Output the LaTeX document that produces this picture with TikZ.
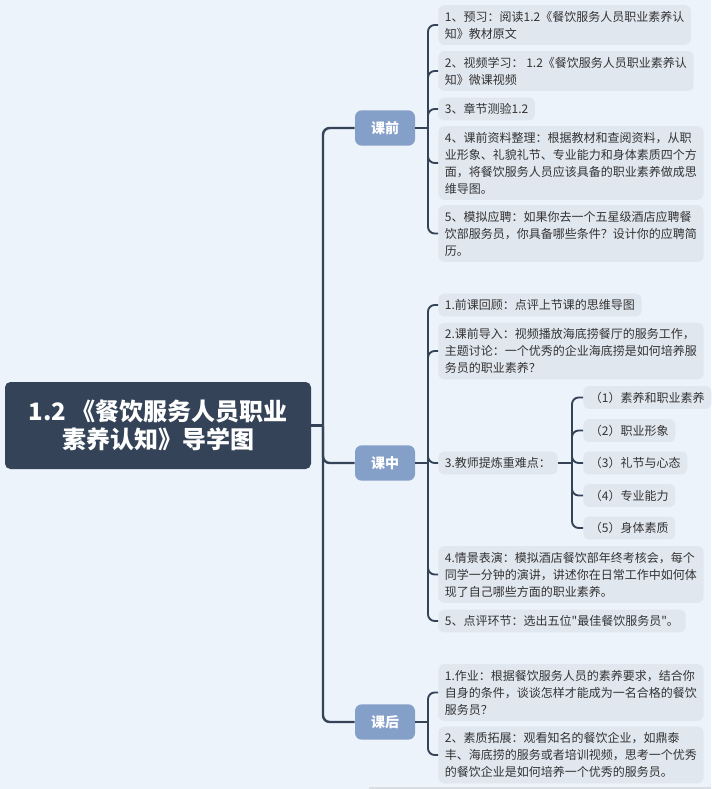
\documentclass[tikz,border=0pt]{standalone}
\usepackage{fontspec}
\setmainfont{Noto Sans CJK SC}
\newfontfamily\plaincjk{Noto Sans CJK SC}
\definecolor{bgc}{HTML}{EDF3FA}
\definecolor{leafc}{HTML}{E1E7EF}
\definecolor{branchc}{HTML}{849FC8}
\definecolor{rootc}{HTML}{344358}
\definecolor{linec}{HTML}{344358}
\definecolor{txtc}{HTML}{333333}
\definecolor{edgec}{HTML}{D8DDE3}
\tikzset{
  leaf/.style={fill=leafc, rounded corners=4pt, inner xsep=5pt, inner ysep=4.3pt,
    align=left, anchor=west, text=txtc, font=\plaincjk\fontsize{9}{12.75}\selectfont},
  branch/.style={fill=branchc, rounded corners=5pt, minimum width=45pt, minimum height=26.5pt,
    inner sep=0pt, text=white, font=\fontsize{10.5}{12}\selectfont\bfseries},
  rootbox/.style={fill=rootc, rounded corners=4pt, minimum width=229.5pt, minimum height=65.25pt,
    inner sep=0pt, align=center, text=white, font=\fontsize{18}{21}\selectfont\bfseries},
  conn/.style={draw=linec, line width=1.8pt, rounded corners=5pt},
  bconn/.style={draw=linec, line width=1.4pt, rounded corners=5pt},
}
\begin{document}
\begin{tikzpicture}[x=0.75pt,y=-0.75pt]
\useasboundingbox (0,0) rectangle (711,789);
\fill[bgc] (0,0) rectangle (711,789);
\fill[edgec] (369,786.5) rectangle (711,789);

% root
\node[rootbox] (root) at (158,425.5) {1.2 《餐饮服务人员职业\\素养认知》导学图};

% branches
\node[branch] (b1) at (385,128) {课前};
\node[branch] (b2) at (385,463) {课中};
\node[branch] (b3) at (385,722) {课后};

% trunk
\coordinate (tk) at (323,425.5);
\draw[conn] (root.east) -- (tk);
\draw[conn] (tk) |- (b1.west);
\draw[conn] (tk) |- (b2.west);
\draw[conn] (tk) |- (b3.west);

% 课前 leaves
\node[leaf] (k1) at (438,25) {1、预习：阅读1.2《餐饮服务人员职业素养认\\知》教材原文};
\node[leaf] (k2) at (438,71) {2、视频学习： 1.2《餐饮服务人员职业素养认\\知》微课视频};
\node[leaf] (k3) at (438,109) {3、章节测验1.2};
\node[leaf] (k4) at (438,163) {4、课前资料整理：根据教材和查阅资料，从职\\业形象、礼貌礼节、专业能力和身体素质四个方\\面，将餐饮服务人员应该具备的职业素养做成思\\维导图。};
\node[leaf] (k5) at (438,233.5) {5、模拟应聘：如果你去一个五星级酒店应聘餐\\饮部服务员，你具备哪些条件？设计你的应聘简\\历。};

\coordinate (j1) at (428,128);
\draw[bconn] (b1.east) -- (j1);
\foreach \n in {k1,k2,k3,k4,k5} \draw[bconn] (j1) |- (\n.west);

% 课中 leaves
\node[leaf] (z1) at (438,305) {1.前课回顾：点评上节课的思维导图};
\node[leaf] (z2) at (438,351) {2.课前导入：视频播放海底捞餐厅的服务工作，\\主题讨论：一个优秀的企业海底捞是如何培养服\\务员的职业素养？};
\node[leaf] (z3) at (438,463) {3.教师提炼重难点：};
\node[leaf] (z4) at (438,574.5) {4.情景表演：模拟酒店餐饮部年终考核会，每个\\同学一分钟的演讲，讲述你在日常工作中如何体\\现了自己哪些方面的职业素养。};
\node[leaf] (z5) at (438,621) {5、点评环节：选出五位"最佳餐饮服务员"。};

\coordinate (j2) at (428,463);
\draw[bconn] (b2.east) -- (j2);
\foreach \n in {z1,z2,z3,z4,z5} \draw[bconn] (j2) |- (\n.west);

% sub leaves
\node[leaf] (s1) at (583,397.5) {（1）素养和职业素养};
\node[leaf] (s2) at (583,430.5) {（2）职业形象};
\node[leaf] (s3) at (583,463) {（3）礼节与心态};
\node[leaf] (s4) at (583,495.5) {（4）专业能力};
\node[leaf] (s5) at (583,528) {（5）身体素质};

\coordinate (j3) at (572,463);
\draw[bconn] (z3.east) -- (j3);
\foreach \n in {s1,s2,s3,s4,s5} \draw[bconn] (j3) |- (\n.west);

% 课后 leaves
\node[leaf] (h1) at (438,692.5) {1.作业：根据餐饮服务人员的素养要求，结合你\\自身的条件，谈谈怎样才能成为一名合格的餐饮\\服务员？};
\node[leaf] (h2) at (438,755) {2、素质拓展：观看知名的餐饮企业，如鼎泰\\丰、海底捞的服务或者培训视频，思考一个优秀\\的餐饮企业是如何培养一个优秀的服务员。};

\coordinate (j4) at (428,722);
\draw[bconn] (b3.east) -- (j4);
\foreach \n in {h1,h2} \draw[bconn] (j4) |- (\n.west);
\end{tikzpicture}
\end{document}
